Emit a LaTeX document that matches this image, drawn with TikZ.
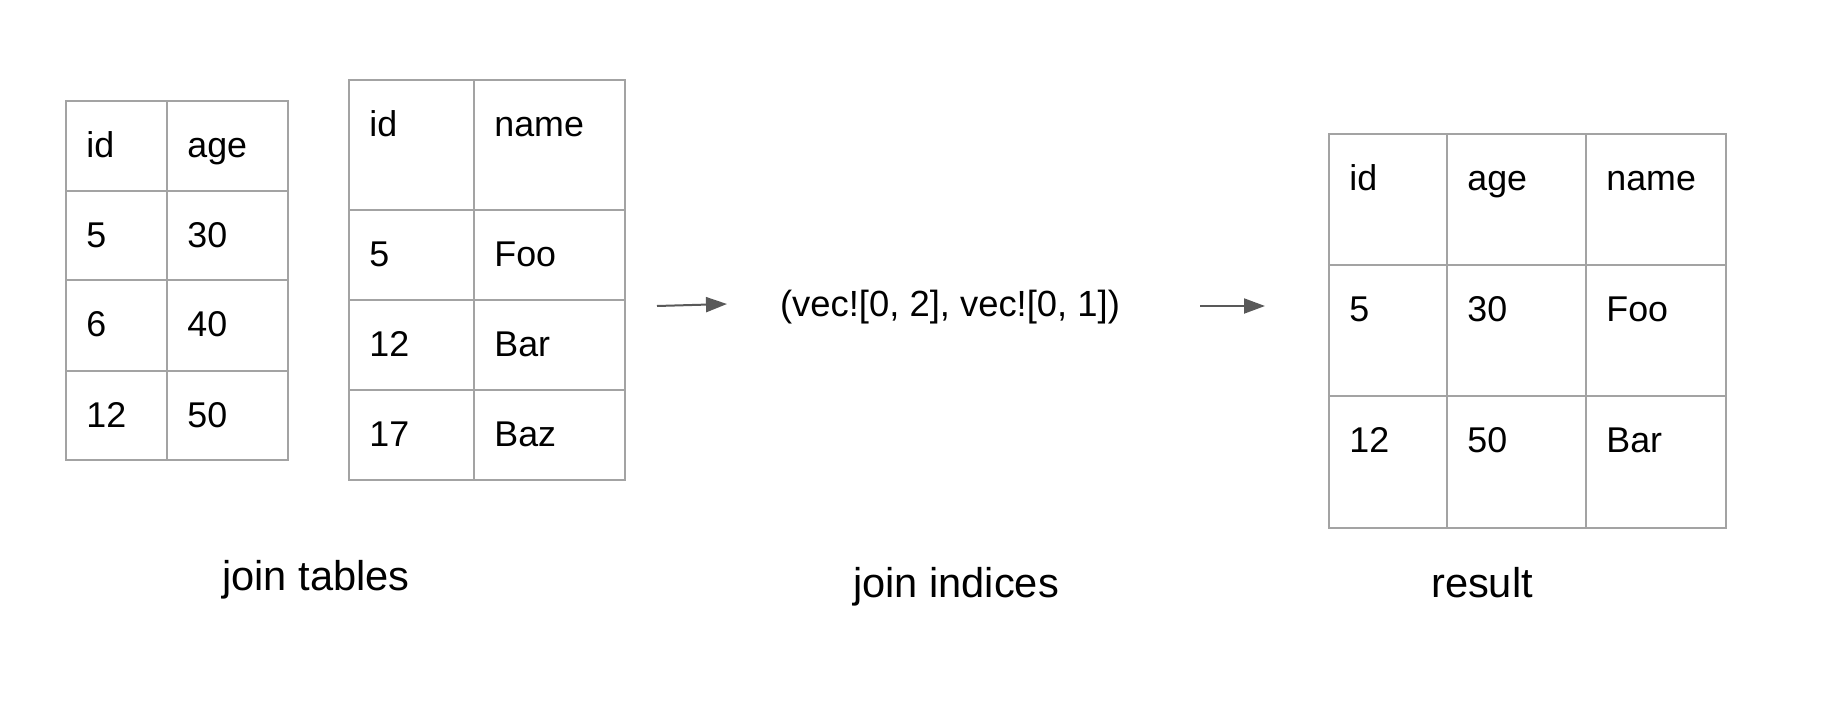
\documentclass[tikz,border=0pt]{standalone}
\usepackage{fontspec}
\setmainfont{Liberation Sans}
\usepackage{xcolor}
\usetikzlibrary{arrows.meta}
\definecolor{mygray}{RGB}{163, 163, 163}
\definecolor{mydark}{RGB}{89, 89, 89}

\tikzset{
  tabline/.style={draw=mygray, line width=1pt},
  cell/.style={anchor=base west, inner sep=0pt, font=\fontsize{17.9}{20}\selectfont},
  lbl/.style={anchor=base, inner sep=0pt, font=\fontsize{20.8}{24}\selectfont},
  arr/.style={-{Triangle[length=10.5pt,width=7.5pt]}, draw=mydark, color=mydark, line width=1pt}
}

\begin{document}
\begin{tikzpicture}[x=0.5pt,y=-0.5pt]
\useasboundingbox (0,0) rectangle (1822,702);

%first table
\draw[tabline] (66,101) rectangle (288,460);
\draw[tabline] (167,101) -- (167,460);
\foreach \y in {191,280,371}{
  \draw[tabline] (66,\y) -- (288,\y);
}
\foreach \r/\a/\b [count=\i] in {101/id/age,191/5/30,280/6/40,371/12/50}{
  \node[cell] (ida\i) at (86,\r+56) {\a};
  \node[cell] (age\i) at (187,\r+56) {\b};
}

%second table
\draw[tabline] (349,80) rectangle (625,480);
\draw[tabline] (474,80) -- (474,480);
\foreach \y in {210,300,390}{
  \draw[tabline] (349,\y) -- (625,\y);
}
\foreach \r/\a/\b [count=\i] in {80/id/name,210/5/Foo,300/12/Bar,390/17/Baz}{
  \node[cell] (idb\i) at (369,\r+56) {\a};
  \node[cell] (name\i) at (494,\r+56) {\b};
}

%result table
\draw[tabline] (1329,134) rectangle (1726,528);
\foreach \x in {1447,1586}{
  \draw[tabline] (\x,134) -- (\x,528);
}
\foreach \y in {265,396}{
  \draw[tabline] (1329,\y) -- (1726,\y);
}
\foreach \r/\a/\b/\c [count=\i] in {134/id/age/name,265/5/30/Foo,396/12/50/Bar}{
  \node[cell] (idr\i) at (1349,\r+56) {\a};
  \node[cell] (ager\i) at (1467,\r+56) {\b};
  \node[cell] (namer\i) at (1606,\r+56) {\c};
}

%indices
\node[cell, anchor=base, font=\fontsize{18.2}{20}\selectfont] (idx) at (950,316) {(vec![0, 2], vec![0, 1])};

\coordinate (a1s) at (657,306);
\coordinate (a1e) at (727,304);
\coordinate (a2s) at (1200,306);
\coordinate (a2e) at (1265,306);
\draw[arr] (a1s) -- (a1e);
\draw[arr] (a2s) -- (a2e);

%captions
\node[lbl] (captab) at (316,590) {join tables};
\node[lbl] (capidx) at (956,597) {join indices};
\node[lbl] (capres) at (1482,597) {result};

\end{tikzpicture}
\end{document}
